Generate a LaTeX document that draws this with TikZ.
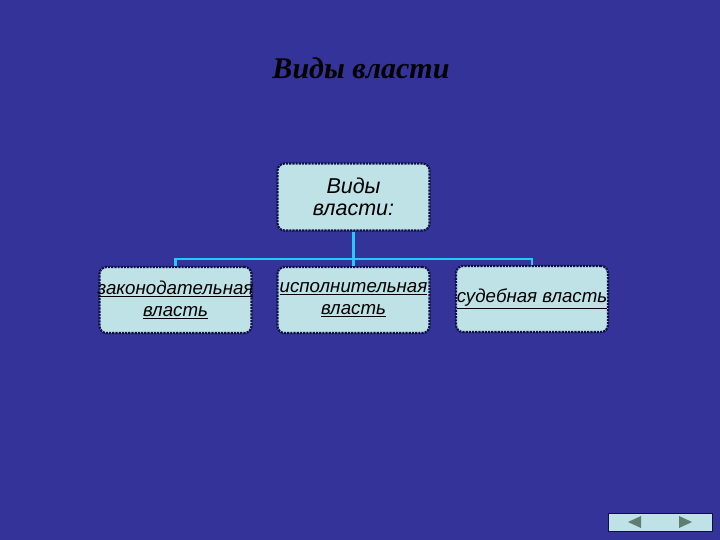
\documentclass[tikz,border=0pt]{standalone}
\usepackage{fontspec}
\setmainfont{Liberation Serif}
\setsansfont{Liberation Sans}
\definecolor{bgblue}{RGB}{51,51,153}
\definecolor{boxfill}{RGB}{190,226,230}
\definecolor{boxline}{RGB}{15,15,70}
\definecolor{connc}{RGB}{40,200,250}
\definecolor{navfill}{RGB}{190,226,230}
\definecolor{navtri}{RGB}{95,125,115}
\newcommand{\ovl}[1]{\makebox[0pt]{\underline{#1}}}
\tikzset{
  box/.style={rectangle, rounded corners=7pt, fill=boxfill, draw=boxline, line width=2.2pt, densely dotted,
    minimum width=152pt, minimum height=66pt, inner sep=0pt, align=center,
    font=\sffamily\itshape\fontsize{18.7}{22}\selectfont, text=black},
  conn/.style={draw=connc, line width=3pt},
}
\begin{document}
\begin{tikzpicture}[x=1pt,y=-1pt]
\fill[bgblue] (0,0) rectangle (720,540);
\useasboundingbox (0,0) rectangle (720,540);
\node[font=\rmfamily\bfseries\itshape\fontsize{30}{34}\selectfont, text=black] (title) at (361,68) {Виды власти};
\node[box, minimum height=67pt, font=\sffamily\itshape\fontsize{21.5}{22}\selectfont] (top) at (353.5,197) {Виды\\власти:};
\node[box] (leg) at (175.5,300) {\ovl{законодательная}\\\ovl{власть}};
\node[box] (exe) at (353.5,300) {\ovl{исполнительная}\\\ovl{власть}};
\node[box] (jud) at (532,299) {\ovl{судебная власть}};
\coordinate (hj) at (353.5,259);
\draw[conn, line width=3.5pt] (top.south) -- (exe.north);
\draw[conn, line width=2.5pt] (leg.north) |- (hj) -| (jud.north);
% navigation buttons
\node[rectangle, fill=navfill, draw=boxline, line width=1pt, minimum width=104pt, minimum height=18pt, inner sep=0pt] (nav) at (660,522) {};
\fill[navtri] (628,522) -- (641,516) -- (641,528) -- cycle;
\fill[navtri] (692,522) -- (679,516) -- (679,528) -- cycle;
\end{tikzpicture}
\end{document}
